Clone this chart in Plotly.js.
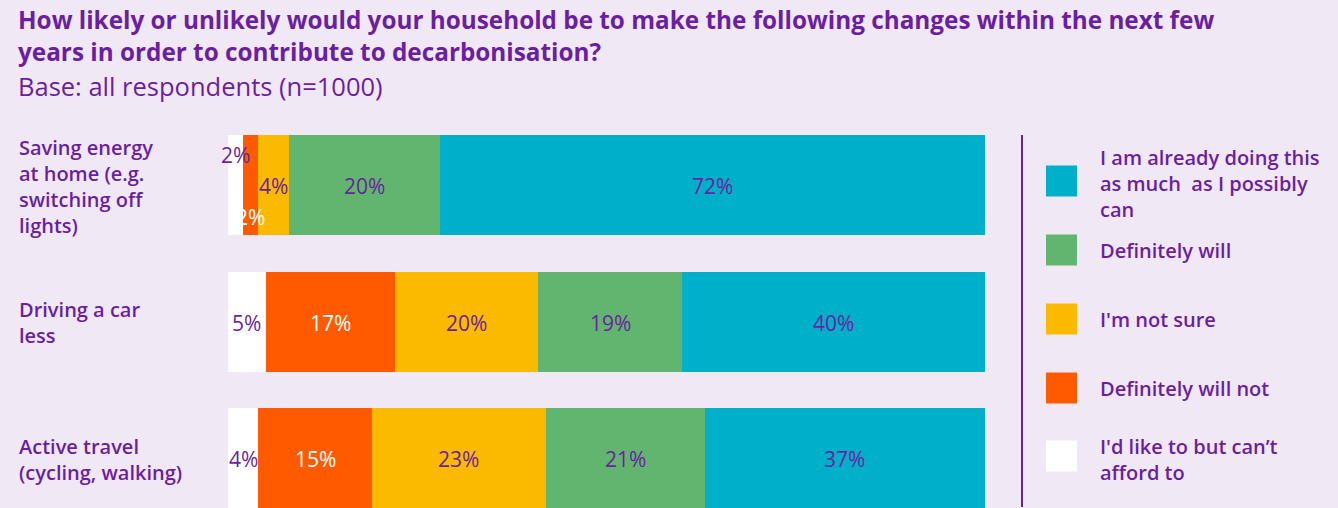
<!DOCTYPE html>
<html>
<head>
<meta charset="utf-8">
<script src="https://cdn.plot.ly/plotly-3.0.1.min.js"></script>
<style>html,body{margin:0;padding:0;background:#f1e8f5;}</style>
</head>
<body>
<div id="chart" style="width:1338px;height:508px;"></div>
<script>
// ---- data ----
const categories = ["Saving energy<br>at home (e.g.<br>switching off<br>lights)", "Driving a car<br>less", "Active travel<br>(cycling, walking)"];
const seriesNames = ["I'd like to but can’t<br>afford to", "Definitely will not", "I'm not sure", "Definitely will", "I am already doing this<br>as much  as I possibly<br>can"];
const affordValues = [2, 5, 4];
const willNotValues = [2, 17, 15];
const notSureValues = [4, 19, 23];
const willValues = [20, 19, 21];
const alreadyValues = [72, 40, 37];
const affordLabels = ["2%", "5%", "4%"];
const willNotLabels = ["2%", "17%", "15%"];
const notSureLabels = ["4%", "20%", "23%"];
const willLabels = ["20%", "19%", "21%"];
const alreadyLabels = ["72%", "40%", "37%"];

// ---- styles ----
const PURPLE = "#6a1fa2";
const BG = "#f1e8f5";
const colors = ["#ffffff", "#ff5a00", "#fbb900", "#62b56f", "#00afc9"];
const labelColors = [PURPLE, "#ffffff", PURPLE, PURPLE, PURPLE];
const FONT = "Open Sans, Lato, sans-serif";

const values = [affordValues, willNotValues, notSureValues, willValues, alreadyValues];
const labels = [affordLabels, willNotLabels, notSureLabels, willLabels, alreadyLabels];
const rowLabelShift = [[31, 0, 0], [-31, 0, 0], [0, 0, 0], [0, 0, 0], [0, 0, 0]];

const W = 1338, H = 508;
const M = {l: 228, r: 353, t: 117, b: 0};
const PW = W - M.l - M.r, PH = H - M.t - M.b;
const px = x => (x - M.l) / PW;
const py = y => (H - M.b - y) / PH;

const traces = values.map((v, i) => ({
  type: "bar", orientation: "h", name: seriesNames[i].replace(/<br>/g, " "),
  y: categories, x: v,
  marker: {color: colors[i], line: {width: 0}},
  hoverinfo: "skip", showlegend: false
}));

const annotations = [];
categories.forEach((c, r) => {
  let cum = 0;
  values.forEach((v, i) => {
    const mid = cum + v[r] / 2;
    cum += v[r];
    annotations.push({
      x: mid, y: c, xref: "x", yref: "y", text: labels[i][r], showarrow: false,
      xanchor: "center", yanchor: "middle", yshift: rowLabelShift[i][r] - 1,
      font: {family: FONT, size: 21, color: labelColors[i], weight: 500}
    });
  });
  annotations.push({
    x: px(17), y: c, xref: "paper", yref: "y", text: c, showarrow: false,
    xanchor: "left", yanchor: "middle", align: "left", yshift: -1,
    font: {family: FONT, size: 20, color: PURPLE, weight: 600}
  });
});

// subtitle
annotations.push({
  x: px(16), y: py(86), xref: "paper", yref: "paper", text: "Base: all respondents (n=1000)",
  showarrow: false, xanchor: "left", yanchor: "middle",
  font: {family: FONT, size: 25.5, color: PURPLE, weight: 400}
});

// custom legend
const shapes = [];
const legendY = [181, 250, 319, 388, 456];
const legendTextY = [183, 250, 319, 388, 459];
const legendOrder = [4, 3, 2, 1, 0];
legendOrder.forEach((si, k) => {
  const cy = legendY[k];
  shapes.push({type: "rect", xref: "paper", yref: "paper",
    x0: px(1046), x1: px(1077), y0: py(cy + 15.5), y1: py(cy - 15.5),
    fillcolor: colors[si], line: {width: 0}});
  annotations.push({x: px(1098), y: py(legendTextY[k]), xref: "paper", yref: "paper",
    text: seriesNames[si], showarrow: false, xanchor: "left", yanchor: "middle", align: "left",
    font: {family: FONT, size: 20, color: PURPLE, weight: 600}});
});
// divider line
shapes.push({type: "line", xref: "paper", yref: "paper", x0: px(1022), x1: px(1022),
  y0: py(507), y1: py(135), line: {color: PURPLE, width: 2}});

const layout = {
  width: W, height: H,
  paper_bgcolor: BG, plot_bgcolor: BG,
  margin: M,
  barmode: "stack", bargap: 0.27,
  title: {
    text: "<b>How likely or unlikely would your household be to make the following changes within the next few<br>years in order to contribute to decarbonisation?</b>",
    x: 18 / W, xanchor: "left", xref: "container",
    y: 1 - 29 / H, yanchor: "top", yref: "container",
    font: {family: FONT, size: 24.3, color: PURPLE}
  },
  xaxis: {range: [0, 100], visible: false, fixedrange: true},
  yaxis: {type: "category", range: [-0.5 + PH / 136.5, -0.5], visible: false, fixedrange: true},
  annotations: annotations,
  shapes: shapes,
  showlegend: false
};

Plotly.newPlot("chart", traces, layout, {displayModeBar: false, staticPlot: true});
</script>
</body>
</html>
